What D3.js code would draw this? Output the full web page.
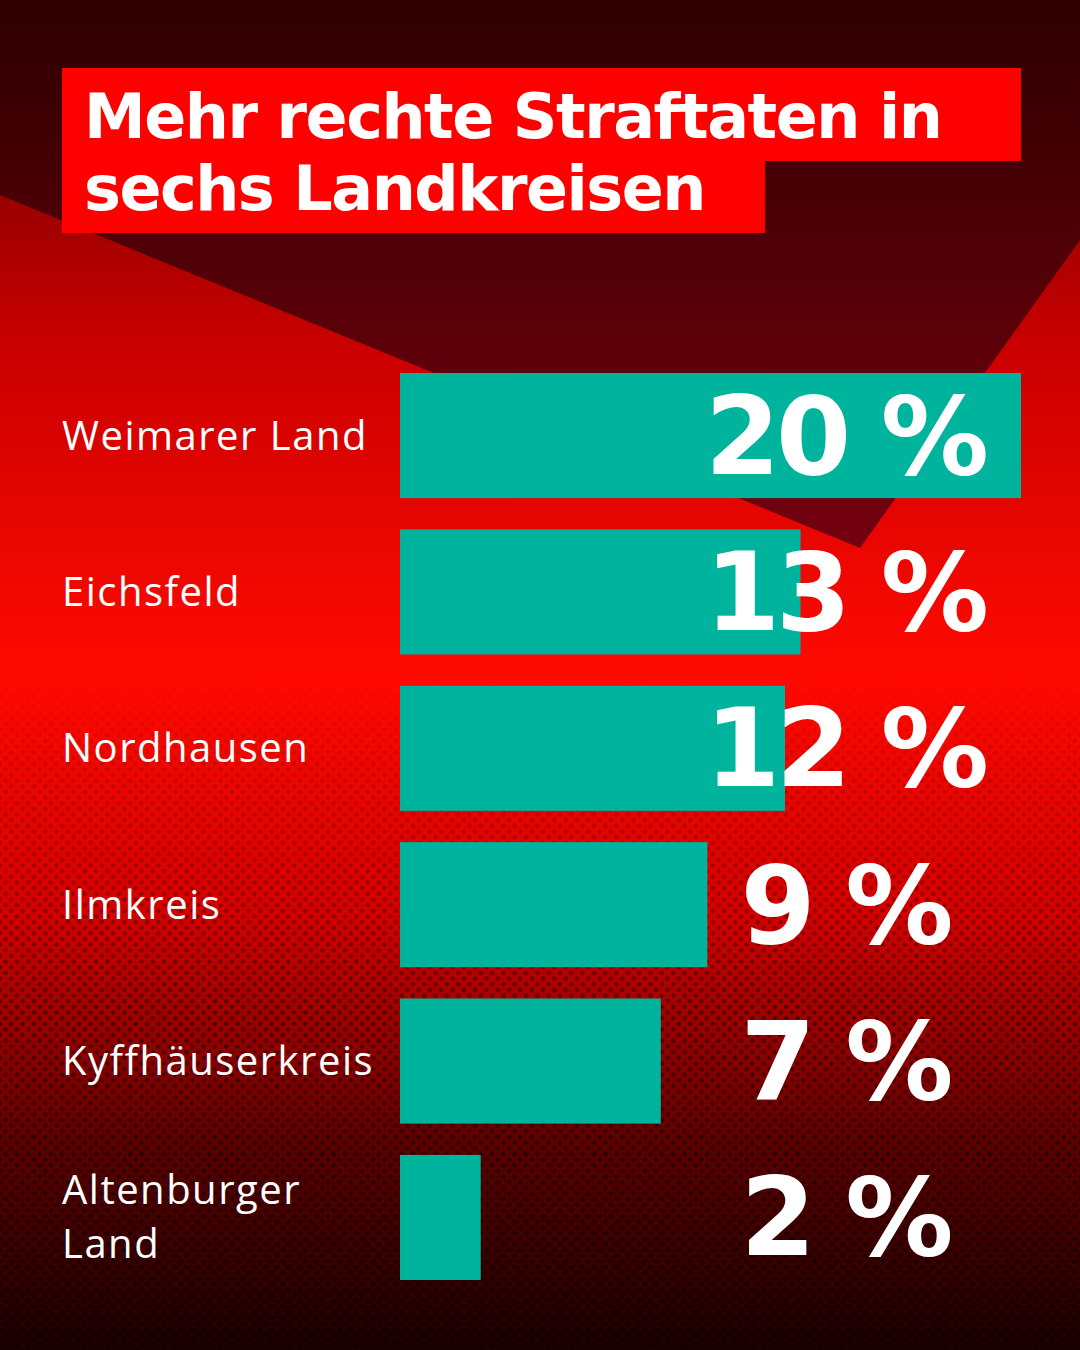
<!DOCTYPE html>
<html><head><meta charset="utf-8">
<script src="https://cdn.jsdelivr.net/npm/d3@7"></script>
<style>body{margin:0;background:#000}svg{display:block}</style>
</head><body>
<svg id="chart" width="1080" height="1350"></svg>
<script>
// Data
var regions = ["Weimarer Land", "Eichsfeld", "Nordhausen", "Ilmkreis", "Kyffhäuserkreis", "Altenburger Land"]
var barValues = [20, 12.9, 12.4, 9.9, 8.4, 2.6]
var pctLabels = ["20 %", "13 %", "12 %", "9 %", "7 %", "2 %"]
var titleLines = ["Mehr rechte Straftaten in", "sechs Landkreisen"]

var svg = d3.select("#chart")
var defs = svg.append("defs")

// background gradient
var bg = defs.append("linearGradient").attr("id", "bg").attr("x1", 0).attr("y1", 0).attr("x2", 0).attr("y2", 1)
bg.append("stop").attr("offset", "0%").attr("stop-color", "#5a0000")
bg.append("stop").attr("offset", "25%").attr("stop-color", "#c80000")
bg.append("stop").attr("offset", "50%").attr("stop-color", "#ff0a00")
bg.append("stop").attr("offset", "68%").attr("stop-color", "#d20000")
bg.append("stop").attr("offset", "85%").attr("stop-color", "#5a0000")
bg.append("stop").attr("offset", "100%").attr("stop-color", "#1a0000")

var dark = defs.append("linearGradient").attr("id", "dark").attr("x1", 0).attr("y1", 0).attr("x2", 0).attr("y2", 1)
dark.append("stop").attr("offset", "0%").attr("stop-color", "#2a0000")
dark.append("stop").attr("offset", "100%").attr("stop-color", "#6a0010")

// halftone dots
var pat = defs.append("pattern").attr("id", "dots").attr("width", 8).attr("height", 8)
  .attr("patternUnits", "userSpaceOnUse").attr("patternTransform", "rotate(45)")
pat.append("circle").attr("cx", 4).attr("cy", 4).attr("r", 2.2).attr("fill", "#000").attr("opacity", 0.45)
var fade = defs.append("linearGradient").attr("id", "fade").attr("x1", 0).attr("y1", 0).attr("x2", 0).attr("y2", 1)
fade.append("stop").attr("offset", "0%").attr("stop-color", "#fff").attr("stop-opacity", 0)
fade.append("stop").attr("offset", "50%").attr("stop-color", "#fff").attr("stop-opacity", 0)
fade.append("stop").attr("offset", "75%").attr("stop-color", "#fff").attr("stop-opacity", 1)
var mask = defs.append("mask").attr("id", "m")
mask.append("rect").attr("width", 1080).attr("height", 1350).attr("fill", "url(#fade)")

svg.append("rect").attr("width", 1080).attr("height", 1350).attr("fill", "url(#bg)")
svg.append("path").attr("d", "M0,0 L1080,0 L1080,240 L860,548 L0,195 Z").attr("fill", "url(#dark)").attr("opacity", 0.92)
svg.append("rect").attr("width", 1080).attr("height", 1350).attr("fill", "url(#dots)").attr("mask", "url(#m)")

// title
svg.append("rect").attr("x", 62).attr("y", 68).attr("width", 959).attr("height", 93).attr("fill", "#ff0000")
svg.append("rect").attr("x", 62).attr("y", 160).attr("width", 703).attr("height", 73).attr("fill", "#ff0000")
svg.selectAll(".title").data(titleLines).enter().append("text")
  .attr("x", 84).attr("y", (d, i) => 138 + i * 72)
  .attr("fill", "#fff").attr("font-family", "'DejaVu Sans'").attr("font-weight", "bold")
  .attr("font-size", 62).attr("letter-spacing", -1.5).text(d => d)

// scales
var x = d3.scaleLinear().domain([0, 20]).range([400, 1021])
var y = d3.scaleBand().domain(regions).range([373, 1280]).paddingInner(0.2)

svg.selectAll(".bar").data(regions).enter().append("rect")
  .attr("x", x(0)).attr("y", d => y(d))
  .attr("width", (d, i) => x(barValues[i]) - x(0)).attr("height", y.bandwidth())
  .attr("fill", "#00b39c")

svg.selectAll(".lab").data(regions).enter().append("text")
  .attr("x", 62).attr("fill", "#fff").attr("font-family", "'Open Sans'")
  .attr("font-size", 40).attr("letter-spacing", 1.5)
  .each(function (d) {
    var words = d === "Altenburger Land" ? ["Altenburger", "Land"] : [d]
    var yc = y(d) + y.bandwidth() / 2 + 14 - (words.length - 1) * 27
    d3.select(this).selectAll("tspan").data(words).enter().append("tspan")
      .attr("x", 62).attr("y", (w, j) => yc + j * 54).text(w => w)
  })

svg.selectAll(".pct").data(regions).enter().append("text")
  .attr("x", 845).attr("y", d => y(d) + y.bandwidth() / 2 + 38)
  .attr("text-anchor", "middle").attr("fill", "#fff")
  .attr("font-family", "'DejaVu Sans'").attr("font-weight", "bold")
  .attr("font-size", 108).attr("letter-spacing", -4)
  .text((d, i) => pctLabels[i])
</script>
</body></html>
